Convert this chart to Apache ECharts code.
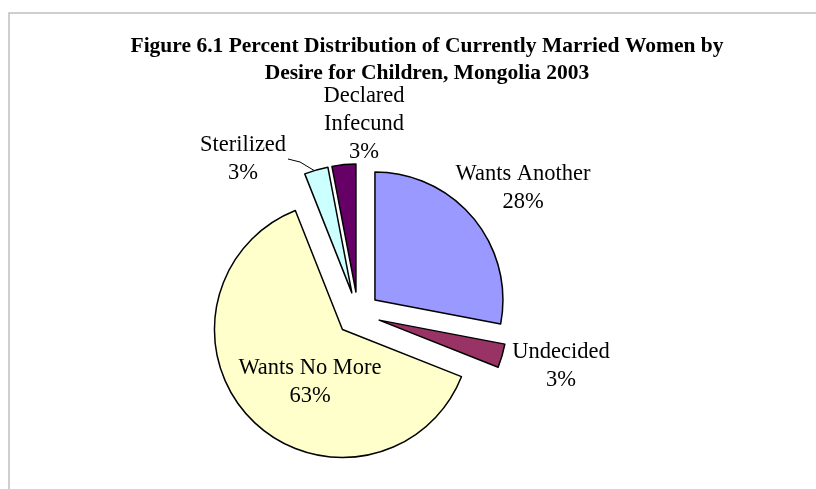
<!DOCTYPE html>
<html style="height: 100%">
   <head>
       <meta charset="utf-8">
   </head>
   <body style="height: 100%; margin: 0; background: #fff">
       <div id="container" style="width: 816px; height: 489px"></div>
       <script type="text/javascript" src="https://cdn.jsdelivr.net/npm/echarts@6/dist/echarts.min.js"></script>
       <script type="text/javascript">
var dom = document.getElementById("container");
var myChart = echarts.init(dom);

var categories = ['Wants Another', 'Undecided', 'Wants No More', 'Sterilized', 'Declared\nInfecund'];
var values = [28, 3, 63, 3, 3];
var colors = ['#9999FF', '#993366', '#FFFFCC', '#CCFFFF', '#660066'];
// where each label block is centred
var labelSpots = [[523, 188], [561, 366], [310, 382], [243, 159], [364, 124]];
var explode = 22;

// the slices are pulled out, and the labels ride along with them,
// so work out each slice's pull to take it back off the label spot
var total = 0;
for (var i = 0; i < values.length; i++) total += values[i];
var pulls = [];
var acc = 0;
for (var i = 0; i < values.length; i++) {
    var mid = (90 - (acc + values[i] / 2) / total * 360) * Math.PI / 180;
    pulls.push([explode * Math.cos(mid), -explode * Math.sin(mid)]);
    acc += values[i];
}

var pieData = [];
for (var i = 0; i < values.length; i++) {
    pieData.push({
        name: categories[i],
        value: values[i],
        selected: true,
        itemStyle: {color: colors[i]},
        labelLine: {show: i == 3}
    });
}

var option = {
    animation: false,
    textStyle: {fontFamily: 'Liberation Serif'},
    title: {
        text: 'Figure 6.1 Percent Distribution of Currently Married Women by\nDesire for Children, Mongolia 2003',
        left: 422,
        top: 28,
        textAlign: 'center',
        textStyle: {
            fontFamily: 'Liberation Serif',
            fontWeight: 'bold',
            fontSize: 21.5,
            lineHeight: 27,
            color: '#000'
        }
    },
    graphic: [{
        type: 'rect',
        shape: {x: 9, y: 13, width: 900, height: 600},
        style: {fill: null, stroke: '#c0c0c0', lineWidth: 1.5},
        silent: true
    }],
    series: [{
        type: 'pie',
        center: [358, 314],
        radius: 128,
        startAngle: 90,
        clockwise: true,
        selectedMode: 'multiple',
        selectedOffset: explode,
        emphasis: {disabled: true},
        itemStyle: {borderColor: '#000', borderWidth: 1.5},
        label: {
            show: true,
            formatter: function (p) {
                var lines = (p.name + '\n' + p.value + '%').split('\n');
                return lines.map(function (s) { return '{t|' + s + '}'; }).join('\n');
            },
            rich: {
                t: {
                    width: 170,
                    align: 'center',
                    fontFamily: 'Liberation Serif',
                    fontSize: 22.5,
                    lineHeight: 28,
                    color: '#000'
                }
            }
        },
        labelLine: {
            length: 8,
            length2: 12,
            lineStyle: {color: '#000', width: 1}
        },
        labelLayout: function (params) {
            var i = params.dataIndex;
            var p = labelSpots[i];
            var d = pulls[i];
            var r = params.labelRect;
            var out = {
                dx: p[0] - d[0] - (r.x + r.width / 2),
                dy: p[1] - d[1] - (r.y + r.height / 2)
            };
            if (i == 3) {
                out.labelLinePoints = [
                    [315 - d[0], 171 - d[1]],
                    [300 - d[0], 162 - d[1]],
                    [288 - d[0], 159 - d[1]]
                ];
            }
            return out;
        },
        data: pieData
    }]
};

myChart.setOption(option, true);
       </script>
   </body>
</html>
